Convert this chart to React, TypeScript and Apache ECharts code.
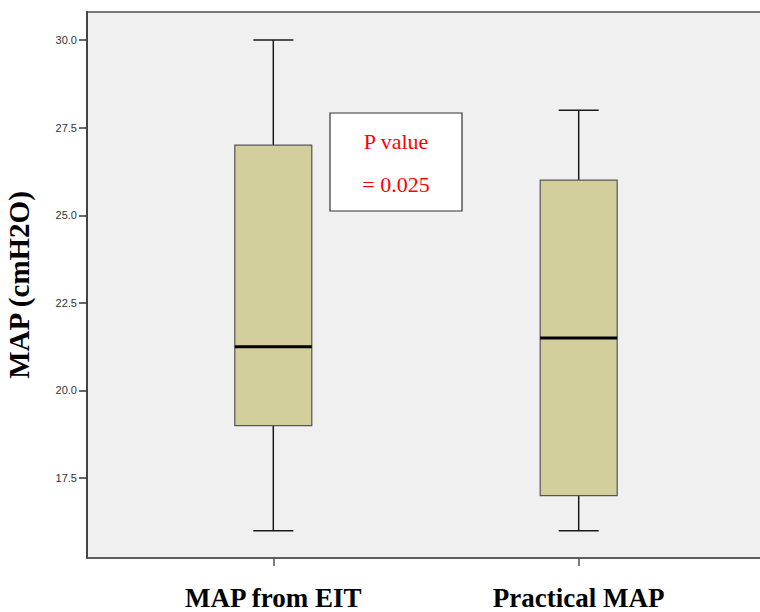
import React, { useEffect, useRef } from "react";
import * as echarts from "echarts";

const categories = ["MAP from EIT", "Practical MAP"];
const positions = [1, 2];
const mins = [16, 16];
const q1s = [19, 17];
const medians = [21.25, 21.5];
const q3s = [27, 26];
const maxs = [30, 28];
const yTicks = [17.5, 20.0, 22.5, 25.0, 27.5, 30.0];
const pValueLines = ["P value", "= 0.025"];

export default function App() {
  const ref = useRef<HTMLDivElement>(null);
  useEffect(() => {
    if (!ref.current) return;
    const chart = echarts.init(ref.current, null, { renderer: "svg" });
    const data = positions.map((p, i) => [p, mins[i], q1s[i], medians[i], q3s[i], maxs[i]]);
    const boxHalf = 38.5;
    const capHalf = 20;
    const option: any = {
      animation: false,
      backgroundColor: "#ffffff",
      grid: {
        left: 87,
        right: -5,
        top: 12,
        bottom: 54,
        containLabel: false,
        outerBoundsMode: "none",
        show: true,
        backgroundColor: "#f0f0f0",
        borderColor: "#777777",
        borderWidth: 2,
      },
      xAxis: {
        type: "value",
        min: 0.39,
        max: 2.61,
        splitLine: { show: false },
        axisLine: { show: true, lineStyle: { color: "#555555", width: 1.5 } },
        axisTick: {
          show: true,
          customValues: positions,
          length: 8,
          lineStyle: { color: "#555555", width: 1.5 },
        },
        axisLabel: {
          customValues: positions,
          formatter: (v: number) => categories[positions.indexOf(Math.round(v))] ?? "",
          margin: 26,
          fontFamily: "Liberation Serif",
          fontWeight: "bold",
          fontSize: 27,
          color: "#000000",
        },
      },
      yAxis: {
        type: "value",
        min: 15.22,
        max: 30.8,
        name: "MAP (cmH2O)",
        nameLocation: "middle",
        nameGap: 54,
        nameRotate: 90,
        nameTextStyle: {
          fontFamily: "Liberation Serif",
          fontWeight: "bold",
          fontSize: 29,
          color: "#000000",
        },
        splitLine: { show: false },
        axisLine: { show: true, lineStyle: { color: "#444444", width: 2 } },
        axisTick: {
          show: true,
          customValues: yTicks,
          length: 8,
          lineStyle: { color: "#333333", width: 1.5 },
        },
        axisLabel: {
          customValues: yTicks,
          formatter: (v: number) => v.toFixed(1),
          margin: 10,
          fontFamily: "Liberation Sans",
          fontSize: 11,
          color: "#333333",
        },
      },
      series: [
        {
          type: "custom",
          data,
          encode: { x: 0, y: [1, 2, 3, 4, 5] },
          renderItem: (params: any, api: any) => {
            const x = api.value(0);
            const cx = api.coord([x, api.value(1)])[0];
            const yMin = api.coord([x, api.value(1)])[1];
            const yQ1 = api.coord([x, api.value(2)])[1];
            const yMed = api.coord([x, api.value(3)])[1];
            const yQ3 = api.coord([x, api.value(4)])[1];
            const yMax = api.coord([x, api.value(5)])[1];
            const ws = { stroke: "#1a1a1a", lineWidth: 1.5 };
            return {
              type: "group",
              children: [
                { type: "line", shape: { x1: cx, y1: yMin, x2: cx, y2: yQ1 }, style: ws },
                { type: "line", shape: { x1: cx, y1: yQ3, x2: cx, y2: yMax }, style: ws },
                { type: "line", shape: { x1: cx - capHalf, y1: yMin, x2: cx + capHalf, y2: yMin }, style: ws },
                { type: "line", shape: { x1: cx - capHalf, y1: yMax, x2: cx + capHalf, y2: yMax }, style: ws },
                {
                  type: "rect",
                  shape: { x: cx - boxHalf, y: yQ3, width: boxHalf * 2, height: yQ1 - yQ3 },
                  style: { fill: "#d3cf9d", stroke: "#555555", lineWidth: 1.2 },
                },
                {
                  type: "line",
                  shape: { x1: cx - boxHalf, y1: yMed, x2: cx + boxHalf, y2: yMed },
                  style: { stroke: "#000000", lineWidth: 3 },
                },
              ],
            };
          },
        },
      ],
      graphic: [
        {
          type: "rect",
          shape: { x: 330, y: 113, width: 132, height: 98 },
          style: { fill: "#ffffff", stroke: "#333333", lineWidth: 1.2 },
        },
        {
          type: "text",
          x: 396,
          y: 141,
          style: {
            text: pValueLines[0],
            fill: "#ff0000",
            font: "22px 'Liberation Serif'",
            align: "center",
            verticalAlign: "middle",
          },
        },
        {
          type: "text",
          x: 396,
          y: 184,
          style: {
            text: pValueLines[1],
            fill: "#ff0000",
            font: "22px 'Liberation Serif'",
            align: "center",
            verticalAlign: "middle",
          },
        },
      ],
    };
    chart.setOption(option);
    return () => chart.dispose();
  }, []);
  return (
    <div
      ref={ref}
      style={{ position: "fixed", left: 0, top: 0, width: 760, height: 612 }}
    />
  );
}
